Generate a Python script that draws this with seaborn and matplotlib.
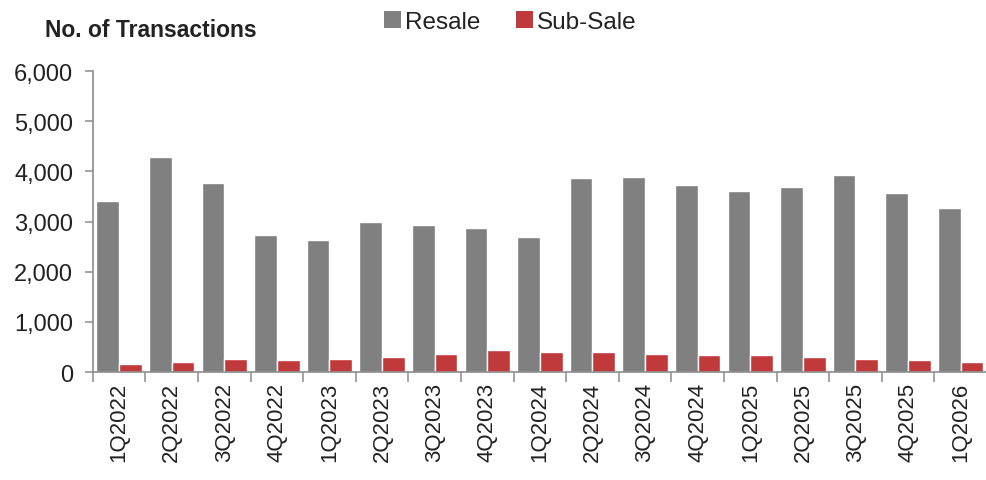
import numpy as np
import pandas as pd
import matplotlib
matplotlib.use("Agg")
import matplotlib.pyplot as plt
import seaborn as sns
from matplotlib.patches import Patch
from matplotlib.ticker import FuncFormatter, FixedLocator

quarters = ["1Q2022", "2Q2022", "3Q2022", "4Q2022", "1Q2023", "2Q2023", "3Q2023",
            "4Q2023", "1Q2024", "2Q2024", "3Q2024", "4Q2024", "1Q2025", "2Q2025",
            "3Q2025", "4Q2025", "1Q2026"]
resale = [3420, 4290, 3760, 2730, 2635, 3000, 2935, 2870, 2700, 3860, 3890,
          3725, 3600, 3690, 3925, 3565, 3265]
sub_sale = [165, 200, 265, 230, 265, 300, 365, 430, 400, 400, 365, 330, 330,
            300, 265, 230, 200]
series_names = ["Resale", "Sub-Sale"]
y_ticks = [0, 1000, 2000, 3000, 4000, 5000, 6000]

df = pd.DataFrame({
    "Quarter": quarters * 2,
    "Type": [series_names[0]] * len(quarters) + [series_names[1]] * len(quarters),
    "Value": resale + sub_sale,
})

GRAY = "#808080"
RED = "#c0393b"
TXT = "#222222"
AX = "#8c8c8c"

sns.set_theme(style="white")
plt.rcParams["font.family"] = ["Liberation Sans", "DejaVu Sans"]

fig = plt.figure(figsize=(9.87, 4.81), dpi=100)
ax = fig.add_axes([0.094, 0.2245, 0.906, 0.6255])

sns.barplot(data=df, x="Quarter", y="Value", hue="Type", order=quarters,
            hue_order=series_names, palette=[GRAY, RED], width=0.86,
            saturation=1, dodge=True, ax=ax, legend=False)

ax.set_xlim(-0.5, len(quarters) - 0.5)
ax.set_ylim(0, 6000)
ax.set_yticks(y_ticks)
ax.yaxis.set_major_formatter(FuncFormatter(lambda v, p: f"{int(v):,}"))
ax.set_xlabel("")
ax.set_ylabel("")

for s in ["top", "right"]:
    ax.spines[s].set_visible(False)
for s in ["left", "bottom"]:
    ax.spines[s].set_color(AX)
    ax.spines[s].set_linewidth(1.2)

ax.tick_params(axis="y", which="major", length=6, width=1.1, color=AX,
               labelsize=17, labelcolor=TXT, pad=8, direction="out", left=True)
ax.tick_params(axis="x", which="major", length=0, labelsize=16,
               labelcolor=TXT, pad=7, rotation=90)
ax.xaxis.set_minor_locator(FixedLocator(np.arange(-0.5, len(quarters), 1.0)))
ax.tick_params(axis="x", which="minor", length=7, width=1.1, color=AX,
               direction="out", bottom=True)

fig.text(0.046, 0.936, "No. of Transactions", fontsize=16.5, fontweight="bold",
         color=TXT, va="center", ha="left")

handles = [Patch(facecolor=GRAY, edgecolor="none"), Patch(facecolor=RED, edgecolor="none")]
fig.legend(handles, series_names, loc="center left", bbox_to_anchor=(0.389, 0.953),
           ncol=2, frameon=False, fontsize=17.5, handlelength=0.7,
           handleheight=0.7, handletextpad=0.15, columnspacing=1.5,
           labelcolor=TXT, borderaxespad=0, borderpad=0)

fig.savefig("out.png", dpi=100)
